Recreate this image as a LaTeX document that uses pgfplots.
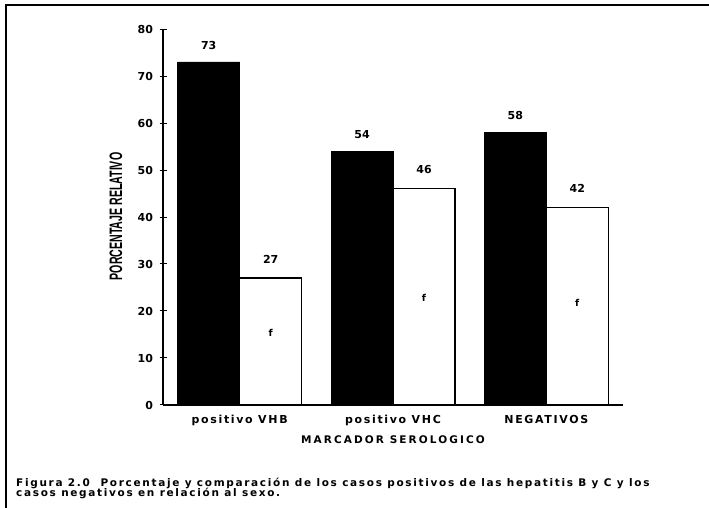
\documentclass[border=0pt]{standalone}
\usepackage{fontspec}
\setmainfont{DejaVu Sans}
\newfontfamily\ylabfont{Liberation Sans}
\newfontfamily\tickfont[LetterSpace=15]{DejaVu Sans}
\newfontfamily\xlabfont[LetterSpace=20]{DejaVu Sans}
\newfontfamily\capfont[LetterSpace=16]{DejaVu Sans}
\usepackage{graphicx}
\usepackage{pgfplots}
\pgfplotsset{compat=1.18}
\begin{document}
\begin{tikzpicture}[x=1pt,y=1pt]
\path[use as bounding box] (0,0) rectangle (709,508);
\draw[line width=2pt] (6,0) -- (6,503) -- (709,503);
\begin{axis}[
  at={(163pt,103pt)}, anchor=origin,
  scale only axis, width=460pt, height=376pt,
  xmin=0, xmax=3, ymin=0, ymax=80,
  axis x line*=bottom, axis y line*=left,
  axis line style={line width=1.2pt},
  tick align=center, major tick length=7pt,
  tick style={line width=1pt, black},
  ytick={0,10,...,80},
  /pgf/number format/assume math mode=true,
  yticklabel style={font=\fontsize{11}{13}\selectfont\bfseries, xshift=-3pt},
  xtick={0.5,1.5,2.5},
  xticklabels={positivo VHB, positivo VHC, NEGATIVOS},
  xtick style={draw=none},
  xticklabel style={font=\tickfont\fontsize{11}{13}\selectfont\bfseries, yshift=-3pt},
  extra x ticks={1,2,3},
  extra x tick labels={},
  extra x tick style={tick style={draw=black, line width=1pt}},
  clip=false,
]
\addplot[ybar, bar width=62pt, bar shift=-31pt, fill=black, draw=black,
  nodes near coords, nodes near coords style={font=\fontsize{11}{13}\selectfont\bfseries, xshift=-31pt, yshift=9pt, text=black}]
  coordinates {(0.5,73) (1.5,54) (2.5,58)};
\addplot[ybar, bar width=62pt, bar shift=31pt, fill=white, draw=black, line width=1.3pt,
  nodes near coords, nodes near coords style={font=\fontsize{11}{13}\selectfont\bfseries, xshift=31pt, yshift=11pt, text=black}]
  coordinates {(0.5,27) (1.5,46) (2.5,42)};
\node[font=\fontsize{9.5}{12}\selectfont\bfseries] at (axis cs:0.702,15.3) {f};
\node[font=\fontsize{9.5}{12}\selectfont\bfseries] at (axis cs:1.702,22.8) {f};
\node[font=\fontsize{9.5}{12}\selectfont\bfseries] at (axis cs:2.702,21.7) {f};
\end{axis}
\node[rotate=90, inner sep=0pt] at (116,291.5)
  {\scalebox{0.59}[1]{\ylabfont\fontsize{18}{18}\selectfont\bfseries PORCENTAJE RELATIVO}};
\node[font=\xlabfont\fontsize{10.5}{12}\selectfont\bfseries, inner sep=0pt] at (393,68) {MARCADOR SEROLOGICO};
\node[anchor=base west, inner sep=0pt, font=\capfont\fontsize{10.5}{12}\selectfont\bfseries] at (16,21)
  {Figura 2.0\ \ Porcentaje y comparación de los casos positivos de las hepatitis B y C y los};
\node[anchor=base west, inner sep=0pt, font=\capfont\fontsize{10.5}{12}\selectfont\bfseries] at (16,11)
  {casos negativos en relación al sexo.};
\end{tikzpicture}
\end{document}
